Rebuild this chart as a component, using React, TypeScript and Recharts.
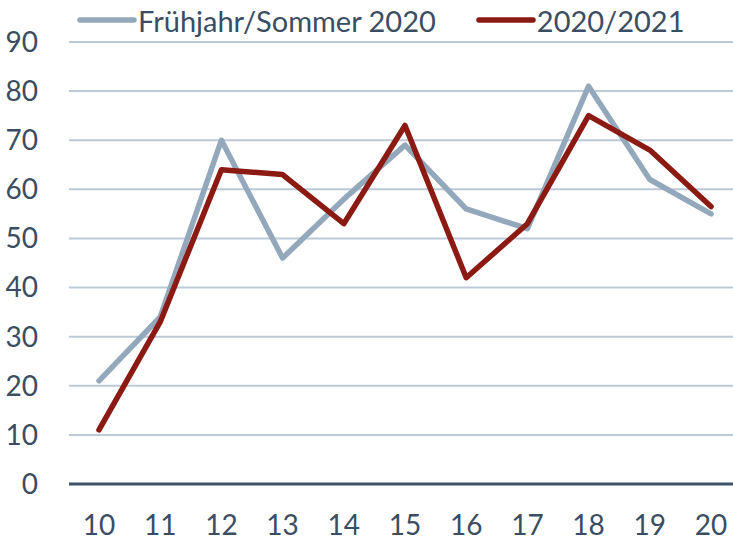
import { LineChart, Line, XAxis, YAxis, CartesianGrid, Legend } from 'recharts';

const weeks = ['10', '11', '12', '13', '14', '15', '16', '17', '18', '19', '20'];
const spring2020 = [21, 34, 70, 46, 58, 69, 56, 52, 81, 62, 55];
const season2021 = [11, 33, 64, 63, 53, 73, 42, 53, 75, 68, 56.5];
const yTicks = [0, 10, 20, 30, 40, 50, 60, 70, 80, 90];
const seriesOrder = ['spring', 'season'];

const TEXT = '#3a4d63';
const GREY = '#94a8bb';
const RED = '#8b1a12';
const FONT = 'Lato, "Open Sans", sans-serif';

const chartData = weeks.map((w, i) => ({
  week: w,
  spring: spring2020[i],
  season: season2021[i],
}));

function LegendContent({ payload }: any) {
  const items = [...(payload || [])].sort(
    (a: any, b: any) => seriesOrder.indexOf(a.dataKey) - seriesOrder.indexOf(b.dataKey)
  );
  return (
    <div
      style={{
        display: 'flex',
        alignItems: 'center',
        paddingLeft: 77,
        height: 40,
        fontFamily: FONT,
        fontSize: 29,
        color: TEXT,
      }}
    >
      {items.map((item: any, i: number) => (
        <div
          key={item.value}
          style={{ display: 'flex', alignItems: 'center', marginLeft: i === 0 ? 0 : 40 }}
        >
          <svg width={60} height={10}>
            <line
              x1={3}
              y1={5}
              x2={57}
              y2={5}
              stroke={item.color}
              strokeWidth={5.5}
              strokeLinecap="round"
            />
          </svg>
          <span style={{ marginLeft: 1, whiteSpace: 'nowrap' }}>{item.value}</span>
        </div>
      ))}
    </div>
  );
}

export default function App() {
  return (
    <div style={{ position: 'absolute', left: 0, top: 0, background: '#fff' }}>
      <LineChart
        width={733}
        height={541}
        data={chartData}
        margin={{ top: 42, right: 0, bottom: 0, left: 0 }}
      >
        <CartesianGrid vertical={false} stroke="#bccad8" strokeWidth={2} />
        <XAxis
          dataKey="week"
          height={57}
          padding={{ left: 30, right: 22 }}
          axisLine={{ stroke: '#3d5169', strokeWidth: 3 }}
          tickLine={false}
          tickSize={0}
          tickMargin={31}
          tick={{ fill: TEXT, fontSize: 28, fontFamily: FONT }}
          interval={0}
        />
        <YAxis
          width={69}
          domain={[0, 90]}
          ticks={yTicks}
          axisLine={false}
          tickLine={false}
          tickSize={0}
          tickMargin={31}
          tick={{ fill: TEXT, fontSize: 28, fontFamily: FONT }}
        />
        <Legend
          verticalAlign="middle"
          align="center"
          content={<LegendContent />}
          wrapperStyle={{ top: 0, left: 0, width: 733, height: 40 }}
        />
        <Line
          type="linear"
          dataKey="spring"
          name="Frühjahr/Sommer 2020"
          stroke={GREY}
          strokeWidth={5.5}
          strokeLinecap="round"
          strokeLinejoin="round"
          dot={false}
          activeDot={false}
          isAnimationActive={false}
        />
        <Line
          type="linear"
          dataKey="season"
          name="2020/2021"
          stroke={RED}
          strokeWidth={5.5}
          strokeLinecap="round"
          strokeLinejoin="round"
          dot={false}
          activeDot={false}
          isAnimationActive={false}
        />
      </LineChart>
    </div>
  );
}
